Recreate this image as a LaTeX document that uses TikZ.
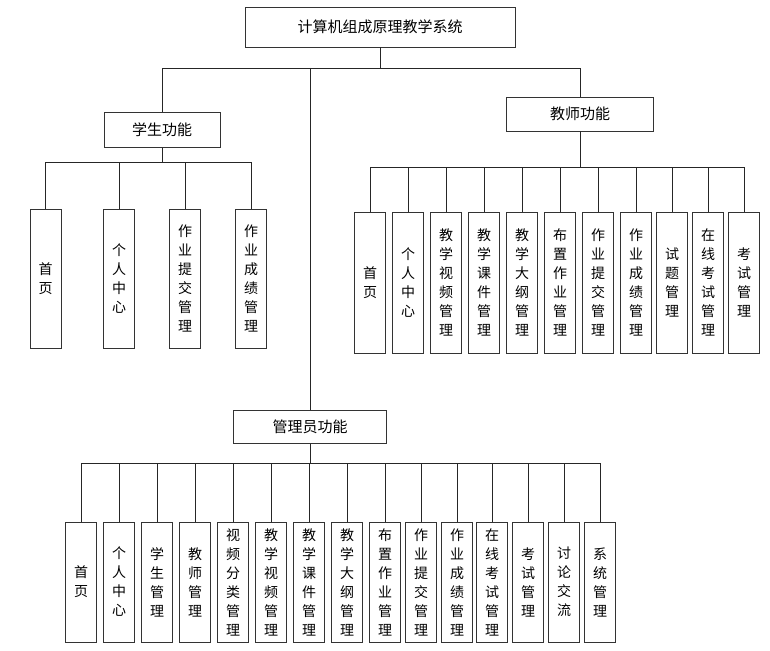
\documentclass[tikz,border=0pt]{standalone}
\usepackage{fontspec}
\setmainfont{Noto Sans CJK SC}
\usepackage{tikz}
\usetikzlibrary{positioning}

\tikzset{
  headbox/.style={draw=black!80, line width=0.9pt, inner sep=0pt, font=\fontsize{15}{17}\selectfont},
  leafbox/.style={draw=black!80, line width=0.9pt, inner sep=0pt, minimum width=31pt,
    align=center, font=\fontsize{14}{19}\selectfont},
  link/.style={draw=black!85, line width=0.9pt}
}

\begin{document}
\begin{tikzpicture}[x=1pt, y=-1pt]
\useasboundingbox (0,0) rectangle (770,650);

% top levels
\node (root) [headbox, minimum width=270pt, minimum height=40pt] at (380,27) {计算机组成原理教学系统};
\node (stu) [headbox, minimum width=116pt, minimum height=35pt] at (162,130) {学生功能};
\node (tea) [headbox, minimum width=147pt, minimum height=34pt] at (580,114) {教师功能};
\node (adm) [headbox, minimum width=153pt, minimum height=33pt] at (310,427) {管理员功能};

\coordinate (rootbar) at (380,68);
\coordinate (stubar) at (162,162);
\coordinate (teabar) at (580,167);
\coordinate (admbar) at (310,463);

\path[link] (root) -- (rootbar);
\path[link] (rootbar) -| (stu);
\path[link] (rootbar) -| (tea);
\path[link] (rootbar -| adm) -- (adm);

% student
\node (s1) [leafbox, minimum height=139pt] at (45.5,278.5) {首\\页};
\node (s2) [leafbox, minimum height=139pt] at (119,278.5) {个\\人\\中\\心};
\node (s3) [leafbox, minimum height=139pt] at (185,278.5) {作\\业\\提\\交\\管\\理};
\node (s4) [leafbox, minimum height=139pt] at (251,278.5) {作\\业\\成\\绩\\管\\理};

\path[link] (stu) -- (stubar);
\path[link] (stubar) -| (s1);
\path[link] (stubar) -| (s2);
\path[link] (stubar) -| (s3);
\path[link] (stubar) -| (s4);

% teacher
\node (t1) [leafbox, minimum height=141pt] at (370,282.5) {首\\页};
\node (t2) [leafbox, minimum height=141pt] at (408,282.5) {个\\人\\中\\心};
\node (t3) [leafbox, minimum height=141pt] at (446,282.5) {教\\学\\视\\频\\管\\理};
\node (t4) [leafbox, minimum height=141pt] at (484,282.5) {教\\学\\课\\件\\管\\理};
\node (t5) [leafbox, minimum height=141pt] at (522,282.5) {教\\学\\大\\纲\\管\\理};
\node (t6) [leafbox, minimum height=141pt] at (560,282.5) {布\\置\\作\\业\\管\\理};
\node (t7) [leafbox, minimum height=141pt] at (598,282.5) {作\\业\\提\\交\\管\\理};
\node (t8) [leafbox, minimum height=141pt] at (636,282.5) {作\\业\\成\\绩\\管\\理};
\node (t9) [leafbox, minimum height=141pt] at (672,282.5) {试\\题\\管\\理};
\node (t10) [leafbox, minimum height=141pt] at (708,282.5) {在\\线\\考\\试\\管\\理};
\node (t11) [leafbox, minimum height=141pt] at (744,282.5) {考\\试\\管\\理};

\path[link] (tea) -- (teabar);
\path[link] (teabar) -| (t1);
\path[link] (teabar) -| (t2);
\path[link] (teabar) -| (t3);
\path[link] (teabar) -| (t4);
\path[link] (teabar) -| (t5);
\path[link] (teabar) -| (t6);
\path[link] (teabar) -| (t7);
\path[link] (teabar) -| (t8);
\path[link] (teabar) -| (t9);
\path[link] (teabar) -| (t10);
\path[link] (teabar) -| (t11);

% admin
\node (a1) [leafbox, minimum height=120pt] at (81,582) {首\\页};
\node (a2) [leafbox, minimum height=120pt] at (119,582) {个\\人\\中\\心};
\node (a3) [leafbox, minimum height=120pt] at (157,582) {学\\生\\管\\理};
\node (a4) [leafbox, minimum height=120pt] at (195,582) {教\\师\\管\\理};
\node (a5) [leafbox, minimum height=120pt] at (233,582) {视\\频\\分\\类\\管\\理};
\node (a6) [leafbox, minimum height=120pt] at (271,582) {教\\学\\视\\频\\管\\理};
\node (a7) [leafbox, minimum height=120pt] at (309,582) {教\\学\\课\\件\\管\\理};
\node (a8) [leafbox, minimum height=120pt] at (347,582) {教\\学\\大\\纲\\管\\理};
\node (a9) [leafbox, minimum height=120pt] at (385,582) {布\\置\\作\\业\\管\\理};
\node (a10) [leafbox, minimum height=120pt] at (421,582) {作\\业\\提\\交\\管\\理};
\node (a11) [leafbox, minimum height=120pt] at (457,582) {作\\业\\成\\绩\\管\\理};
\node (a12) [leafbox, minimum height=120pt] at (492,582) {在\\线\\考\\试\\管\\理};
\node (a13) [leafbox, minimum height=120pt] at (528,582) {考\\试\\管\\理};
\node (a14) [leafbox, minimum height=120pt] at (564,582) {讨\\论\\交\\流};
\node (a15) [leafbox, minimum height=120pt] at (600,582) {系\\统\\管\\理};

\path[link] (adm) -- (admbar);
\path[link] (admbar) -| (a1);
\path[link] (admbar) -| (a2);
\path[link] (admbar) -| (a3);
\path[link] (admbar) -| (a4);
\path[link] (admbar) -| (a5);
\path[link] (admbar) -| (a6);
\path[link] (admbar) -| (a7);
\path[link] (admbar) -| (a8);
\path[link] (admbar) -| (a9);
\path[link] (admbar) -| (a10);
\path[link] (admbar) -| (a11);
\path[link] (admbar) -| (a12);
\path[link] (admbar) -| (a13);
\path[link] (admbar) -| (a14);
\path[link] (admbar) -| (a15);
\end{tikzpicture}
\end{document}
